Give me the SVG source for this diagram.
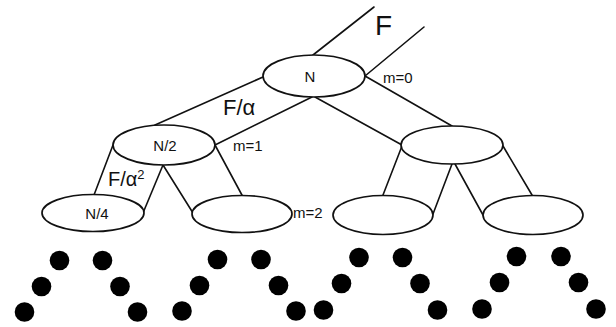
<svg xmlns="http://www.w3.org/2000/svg" width="616" height="327" viewBox="0 0 616 327">
  <style>
    .edge { stroke: #111; stroke-width: 1.6; fill: none; stroke-linecap: round; }
    .node { stroke: #111; stroke-width: 1.7; fill: #fff; }
    .nlabel { font-family: "Liberation Sans", Arial, sans-serif; font-size: 15px; fill: #111; text-anchor: middle; }
    .mlabel { font-family: "Liberation Sans", Arial, sans-serif; font-size: 15px; fill: #111; }
    .flabel { font-family: "Liberation Sans", Arial, sans-serif; fill: #111; }
    .dot { fill: #000; }
  </style>
  <rect width="616" height="327" fill="#fff"/>

  <!-- connectors: each link is a pair of parallel lines -->
  <g id="connectors">
    <line class="edge" x1="313" y1="55" x2="374" y2="7"/>
    <line class="edge" x1="365" y1="76" x2="424" y2="27"/>

    <line class="edge" x1="263" y1="77" x2="155" y2="125"/>
    <line class="edge" x1="312" y1="97" x2="215" y2="145"/>

    <line class="edge" x1="365" y1="76" x2="452" y2="126"/>
    <line class="edge" x1="315" y1="97" x2="402" y2="145"/>

    <line class="edge" x1="113" y1="145" x2="94" y2="195"/>
    <line class="edge" x1="163" y1="165" x2="143" y2="213"/>

    <line class="edge" x1="163" y1="165" x2="193" y2="213"/>
    <line class="edge" x1="215" y1="145" x2="243" y2="197"/>

    <line class="edge" x1="402" y1="146" x2="383" y2="195"/>
    <line class="edge" x1="452" y1="164" x2="433" y2="214"/>

    <line class="edge" x1="455" y1="164" x2="483" y2="215"/>
    <line class="edge" x1="503" y1="146" x2="532" y2="195"/>
  </g>

  <g id="node-root">
    <ellipse class="node" cx="314" cy="76" rx="51" ry="21"/>
    <text class="nlabel" x="310" y="82">N</text>
  </g>
  <g id="node-l1-left">
    <ellipse class="node" cx="164" cy="145" rx="51" ry="20"/>
    <text class="nlabel" x="165" y="151">N/2</text>
  </g>
  <g id="node-l1-right">
    <ellipse class="node" cx="452" cy="145" rx="51" ry="19"/>
  </g>
  <g id="node-l2-a">
    <ellipse class="node" cx="93" cy="213" rx="51" ry="18.5"/>
    <text class="nlabel" x="97" y="219">N/4</text>
  </g>
  <g id="node-l2-b">
    <ellipse class="node" cx="242" cy="214" rx="50" ry="18.5"/>
  </g>
  <g id="node-l2-c">
    <ellipse class="node" cx="383" cy="215" rx="50" ry="19.5"/>
  </g>
  <g id="node-l2-d">
    <ellipse class="node" cx="533" cy="215" rx="50" ry="19.5"/>
  </g>

  <!-- flux and level labels -->
  <g id="labels">
    <text class="flabel" x="375" y="35" font-size="28">F</text>
    <text class="mlabel" x="383" y="83">m=0</text>
    <text class="flabel" x="223" y="115" font-size="22">F/α</text>
    <text class="mlabel" x="233" y="151">m=1</text>
    <text class="flabel" x="108" y="186" font-size="20">F/α<tspan font-size="13" dy="-7">2</tspan></text>
    <text class="mlabel" x="293" y="218">m=2</text>
  </g>

  <!-- continuation dots below the leaves -->
  <g id="dots">
    <circle class="dot" cx="59.5" cy="260.5" r="9.8"/>
    <circle class="dot" cx="102.5" cy="260.5" r="9.8"/>
    <circle class="dot" cx="41.5" cy="286.5" r="9.8"/>
    <circle class="dot" cx="120" cy="286.5" r="9.8"/>
    <circle class="dot" cx="24.5" cy="312" r="9.8"/>
    <circle class="dot" cx="137.5" cy="312" r="9.8"/>

    <circle class="dot" cx="217.5" cy="259.5" r="9.8"/>
    <circle class="dot" cx="261" cy="259.5" r="9.8"/>
    <circle class="dot" cx="199.5" cy="285.5" r="9.8"/>
    <circle class="dot" cx="278.5" cy="285.5" r="9.8"/>
    <circle class="dot" cx="182" cy="311" r="9.8"/>
    <circle class="dot" cx="296" cy="311" r="9.8"/>

    <circle class="dot" cx="359" cy="257.5" r="9.8"/>
    <circle class="dot" cx="402.5" cy="257.5" r="9.8"/>
    <circle class="dot" cx="341.5" cy="283.5" r="9.8"/>
    <circle class="dot" cx="420" cy="283.5" r="9.8"/>
    <circle class="dot" cx="323.5" cy="310" r="9.8"/>
    <circle class="dot" cx="437.5" cy="310" r="9.8"/>

    <circle class="dot" cx="516.5" cy="256.5" r="9.8"/>
    <circle class="dot" cx="561" cy="256.5" r="9.8"/>
    <circle class="dot" cx="499.5" cy="282.5" r="9.8"/>
    <circle class="dot" cx="578.5" cy="282.5" r="9.8"/>
    <circle class="dot" cx="482" cy="309" r="9.8"/>
    <circle class="dot" cx="596" cy="309" r="9.8"/>
  </g>
</svg>
